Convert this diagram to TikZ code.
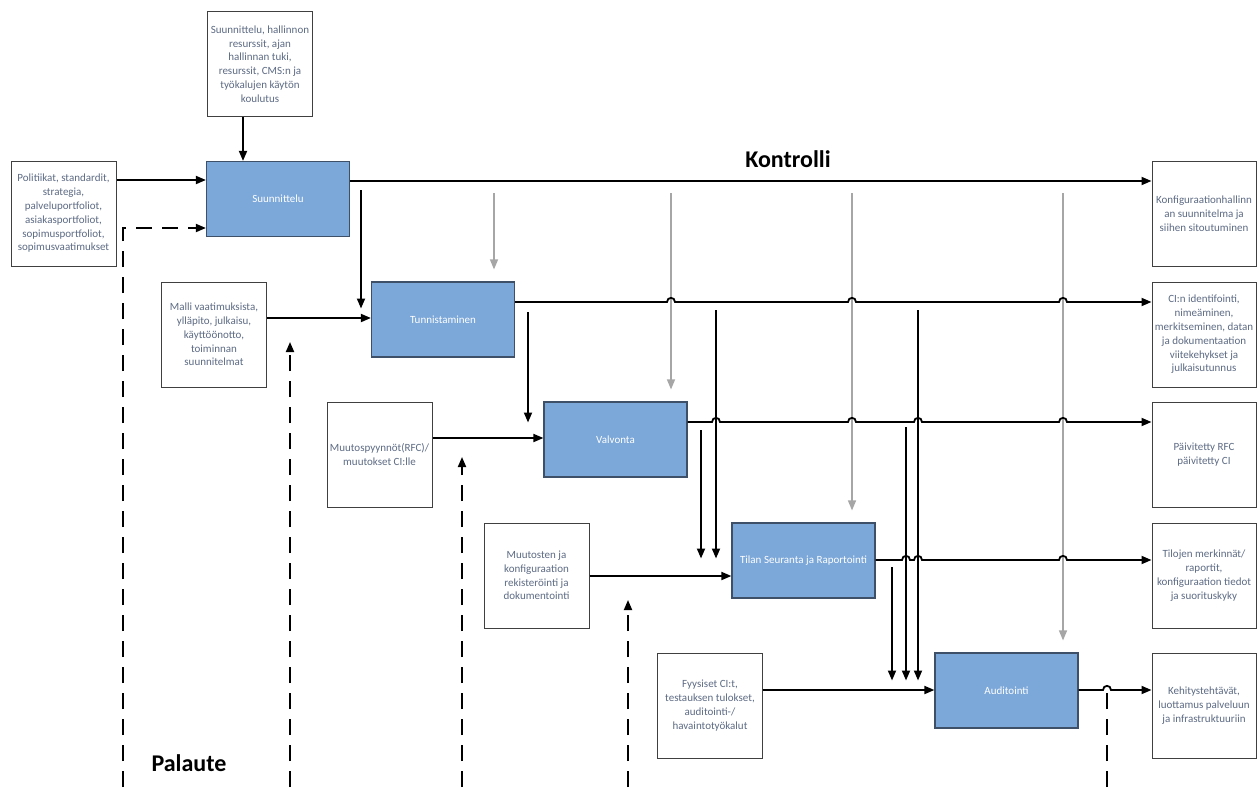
\documentclass[tikz,border=0pt]{standalone}
\usepackage{fontspec}
\setmainfont{Carlito}
\usetikzlibrary{arrows.meta,calc}
\definecolor{boxtext}{HTML}{5D6B84}
\definecolor{bluefill}{HTML}{7BA7D9}
\definecolor{blueborder}{HTML}{3E5068}
\definecolor{ctrlgray}{HTML}{A6A6A6}
\begin{document}
\begin{tikzpicture}[x=1pt,y=-1pt,
  inbox/.style={draw=black!75, line width=1pt, fill=white, minimum width=105pt, minimum height=105pt, inner sep=1pt, align=center, text=boxtext, font=\fontsize{11}{13.8}\selectfont},
  proc/.style={draw=blueborder, line width=1.2pt, fill=bluefill, minimum width=143pt, minimum height=75pt, inner sep=1pt, text=white, font=\fontsize{11}{13.5}\selectfont},
  flow/.style={line width=1.8pt, -{Triangle[length=10pt,width=8pt]}},
  ctrl/.style={line width=1.4pt, draw=ctrlgray, -{Triangle[length=10pt,width=8pt]}, shorten >=12pt},
  fb/.style={line width=1.8pt, dash pattern=on 16pt off 10pt},
  fbarrow/.style={fb, -{Triangle[length=10pt,width=8pt]}},
  heading/.style={font=\fontsize{24}{28}\selectfont\bfseries, inner sep=0pt}
]
\fill[white] (0,0) rectangle (1257,787);
\useasboundingbox (0,0) rectangle (1257,787);

% input boxes
\node[inbox] (top) at (260,64) {Suunnittelu, hallinnon\\resurssit, ajan\\hallinnan tuki,\\resurssit, CMS:n ja\\työkalujen käytön\\koulutus};
\node[inbox] (pol) at (63.5,213.5) {Politiikat, standardit,\\strategia,\\palveluportfoliot,\\asiakasportfoliot,\\sopimusportfoliot,\\sopimusvaatimukset};
\node[inbox] (malli) at (214,334.5) {Malli vaatimuksista,\\ylläpito, julkaisu,\\käyttöönotto,\\toiminnan\\suunnitelmat};
\node[inbox] (muutos) at (379.5,454.5) {Muutospyynnöt(RFC)/\\muutokset CI:lle};
\node[inbox] (rek) at (536.5,575.5) {Muutosten ja\\konfiguraation\\rekisteröinti ja\\dokumentointi};
\node[inbox] (fyys) at (710,705.5) {Fyysiset CI:t,\\testauksen tulokset,\\auditointi-/\\havaintotyökalut};

% process boxes
\node[proc] (A) at (278,199) {Suunnittelu};
\node[proc] (B) at (443,319.5) {Tunnistaminen};
\node[proc] (C) at (615.5,439.5) {Valvonta};
\node[proc] (D) at (803.5,560.5) {Tilan Seuranta ja Raportointi};
\node[proc] (E) at (1006.5,690.5) {Auditointi};

% output boxes
\node[inbox, minimum width=104pt] (o1) at (1204,214) {Konfiguraationhallinn\\an suunnitelma ja\\siihen sitoutuminen};
\node[inbox, minimum width=104pt] (o2) at (1204,334.5) {CI:n identifointi,\\nimeäminen,\\merkitseminen, datan\\ja dokumentaation\\viitekehykset ja\\julkaisutunnus};
\node[inbox, minimum width=104pt] (o3) at (1204,454.5) {Päivitetty RFC\\päivitetty CI};
\node[inbox, minimum width=104pt] (o4) at (1204,575.5) {Tilojen merkinnät/\\raportit,\\konfiguraation tiedot\\ja suorituskyky};
\node[inbox, minimum width=104pt] (o5) at (1204,705.5) {Kehitystehtävät,\\luottamus palveluun\\ja infrastruktuuriin};

% headings
\node[heading] (kontrolli) at (788,159) {Kontrolli};
\node[heading] (palaute) at (189,763) {Palaute};

% control (gray) lines
\draw[ctrl] (494,193) -- (B.north -| 494,0);
\draw[ctrl] (671,193) -- (C.north -| 671,0);
\draw[ctrl] (852,193) -- (D.north -| 852,0);
\draw[ctrl] (1063,193) -- (E.north -| 1063,0);

% inputs
\draw[flow] (top.south -| 243,0) -- (A.north -| 243,0);
\draw[flow] (pol.east |- 0,180) -- (A.west |- 0,180);
\draw[flow] (malli.east |- 0,318) -- (B.west |- 0,318);
\draw[flow] (muutos.east |- 0,438) -- (C.west |- 0,438);
\draw[flow] (rek.east |- 0,576) -- (D.west |- 0,576);
\draw[flow] (fyys.east |- 0,690) -- (E.west |- 0,690);

% feed-down verticals
\draw[flow, shorten >=11pt] (361,190) -- (B.west -| 361,0);
\draw[flow, shorten >=17pt] (528,312) -- (C.west -| 528,0);
\draw[flow, shorten >=2pt] (716,310) -- (D.west -| 716,0);
\draw[flow, shorten >=2pt] (701,430) -- (D.west -| 701,0);
\draw[flow, shorten >=10pt] (918,310) -- (E.west -| 918,0);
\draw[flow, shorten >=10pt] (906,427) -- (E.west -| 906,0);
\draw[flow, shorten >=10pt] (892,567) -- (E.west -| 892,0);

% outputs with line jumps
\draw[flow] (A.east |- 0,181) -- (o1.west |- 0,181);
\draw[flow] (B.east |- 0,302)
  -- (667,302) .. controls (667,296.5) and (675,296.5) .. (675,302)
  -- (848,302) .. controls (848,296.5) and (856,296.5) .. (856,302)
  -- (1059,302) .. controls (1059,296.5) and (1067,296.5) .. (1067,302)
  -- (o2.west |- 0,302);
\draw[flow] (C.east |- 0,422)
  -- (712,422) .. controls (712,416.5) and (720,416.5) .. (720,422)
  -- (848,422) .. controls (848,416.5) and (856,416.5) .. (856,422)
  -- (914,422) .. controls (914,416.5) and (922,416.5) .. (922,422)
  -- (1059,422) .. controls (1059,416.5) and (1067,416.5) .. (1067,422)
  -- (o3.west |- 0,422);
\draw[flow] (D.east |- 0,560)
  -- (902,560) .. controls (902,554.5) and (910,554.5) .. (910,560)
  -- (914,560) .. controls (914,554.5) and (922,554.5) .. (922,560)
  -- (1059,560) .. controls (1059,554.5) and (1067,554.5) .. (1067,560)
  -- (o4.west |- 0,560);
\draw[flow] (E.east |- 0,690)
  -- (1103,690) .. controls (1103,684.5) and (1111,684.5) .. (1111,690)
  -- (o5.west |- 0,690);

% feedback (dashed)
\draw[fbarrow] (123,787) -- (123,228) -- (A.west |- 0,228);
\draw[fbarrow] (290,787) -- (290,342);
\draw[fbarrow] (462,787) -- (462,457);
\draw[fbarrow] (628,787) -- (628,600);
\draw[fb] (1107,787) -- (1107,693);
\end{tikzpicture}
\end{document}
